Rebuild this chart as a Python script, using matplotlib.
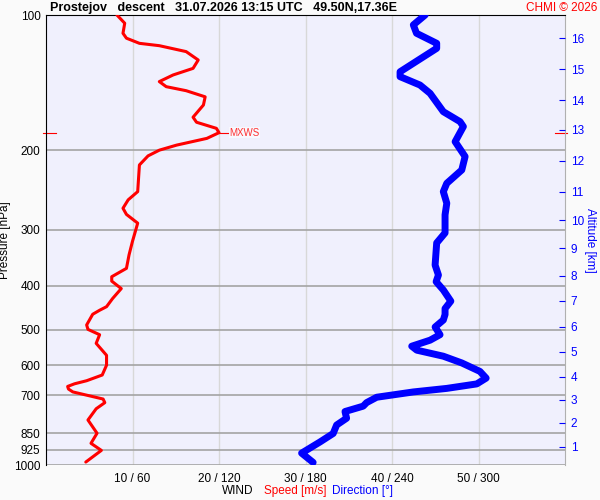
import numpy as np
import matplotlib
matplotlib.use("Agg")
import matplotlib.pyplot as plt
import matplotlib.transforms as mtransforms

plt.rcParams['font.family'] = ['Liberation Sans', 'DejaVu Sans']

# wind speed profile [m/s] vs pressure [hPa]
speed_p = [100, 104.3, 109.8, 112.6, 115.6, 117, 120.6, 125.9, 131.4, 135.9, 140.6, 144.3,
           147.3, 152, 158.5, 168.7, 173.1, 178.6, 182.6, 188, 194.6, 199.7, 205.6, 215.4,
           230.6, 246.9, 257.5, 268.8, 277.4, 290.1, 304, 318.3, 341.3, 365.6, 381.6, 390.3,
           405.5, 426.6, 444.8, 453, 462.4, 488.4, 499.6, 513.4, 536.6, 570.5, 600, 631,
           649.7, 660, 669, 678, 688, 713.5, 726.8, 749.9, 794.3, 850, 895, 928, 985]
speed = [8.2, 9.1, 8.9, 9.3, 10.8, 13.1, 16.2, 17.6, 17.0, 14.7, 13.1, 13.9,
         16.2, 18.4, 18.2, 17.0, 17.4, 19.7, 20.0, 18.6, 15.1, 13.1, 11.8, 10.8,
         10.7, 10.6, 9.5, 8.9, 9.3, 10.6, 10.3, 10.0, 9.6, 9.3, 7.6, 7.6,
         8.7, 7.7, 7.0, 6.2, 5.4, 4.7, 4.85, 6.2, 5.8, 7.0, 7.0, 6.5,
         4.7, 3.3, 2.5, 2.6, 3.1, 6.6, 6.8, 5.8, 4.85, 5.9, 5.2, 6.4, 4.6]

# wind direction profile [deg] vs pressure [hPa]
dir_p = [100, 105.2, 109.8, 115.6, 118.6, 133.7, 137.1, 143.1, 149.3, 164, 172.6, 177,
         191.2, 206.3, 221, 236.6, 246.9, 262, 278, 305, 321, 359.5, 378.3, 391.4,
         408.4, 432.4, 449.1, 463, 476.3, 493.6, 513.4, 528, 544.5, 555.7, 573.1, 593.2,
         619.5, 641.1, 660.4, 675.7, 688.1, 707, 726.7, 740, 760.6, 787.2, 815, 851,
         889, 941, 987]
direction = [263, 254.8, 257, 271, 271, 245.6, 245.6, 259.4, 266.4, 275.6, 287.2, 289.5,
             283.8, 290.7, 288.4, 278, 275.6, 278, 276.8, 276.8, 271, 269.9, 272.2, 270.6,
             275.6, 280.8, 276.8, 276.8, 275.6, 269.9, 273.3, 266.4, 253.7, 257.2, 275.6, 288.4,
             301, 305.3, 298.8, 278, 254.8, 229.4, 222.4, 220, 207.4, 208.5, 201.6, 199.2,
             190, 177.3, 185.3]

pressure_ticks = [100, 200, 300, 400, 500, 600, 700, 850, 925, 1000]
wind_ticks = [10, 20, 30, 40, 50]
wind_labels = ['10 / 60', '20 / 120', '30 / 180', '40 / 240', '50 / 300']

# altitude scale on the right side (km at pressure)
altitude_km = list(range(1, 17))
altitude_p = [911, 806.5, 717, 636.6, 560, 492.7, 431, 380, 329.5, 285.5,
              247, 210.8, 180, 154.5, 132, 112.7]

fig = plt.figure(figsize=(6, 5), dpi=100, facecolor='#fafafa')
ax = fig.add_axes([46 / 600, 35 / 500, 519 / 600, 450 / 500])
ax.set_facecolor('#f0f0fd')

ax.set_yscale('log')
ax.set_ylim(1000, 100)
ax.set_xlim(0, 60)
ax.minorticks_off()
ax.set_yticks(pressure_ticks)
ax.set_yticklabels([str(p) for p in pressure_ticks], fontsize=8.5)
ax.set_xticks(wind_ticks)
ax.set_xticklabels(wind_labels, fontsize=8.5)
ax.tick_params(axis='both', length=0, pad=4)
ax.tick_params(axis='x', pad=6)

for x in wind_ticks:
    ax.axvline(x, color='#d8d8d8', lw=1, zorder=1)
for p in pressure_ticks[1:]:
    ax.axhline(p, color='#a4a4a4', lw=1.2, zorder=1)

ax.spines['left'].set_color('black')
ax.spines['top'].set_color('black')
ax.spines['right'].set_color('#b0b0b0')
ax.spines['bottom'].set_visible(False)

ax.plot(speed, speed_p, color='red', lw=2.2, zorder=3,
        solid_capstyle='round', solid_joinstyle='round')
ax.plot(np.array(direction) / 6.0, dir_p, color='blue', lw=5, zorder=3,
        solid_capstyle='round', solid_joinstyle='round')

# max wind marker
i_max = int(np.argmax(speed))
s_max, p_max = speed[i_max], speed_p[i_max]
ax.plot([s_max, s_max + 1.0], [p_max, p_max], color='red', lw=0.8, zorder=3)
ax.text(s_max + 1.2, p_max, 'MXWS', color='#ff3030', fontsize=7, va='center',
        zorder=4, bbox=dict(facecolor='white', edgecolor='none', alpha=0.6, pad=0.5))
blend = mtransforms.blended_transform_factory(ax.transAxes, ax.transData)
ax.plot([-0.006, 0.019], [p_max, p_max], color='red', lw=0.8, transform=blend, clip_on=False)
ax.plot([0.98, 1.004], [p_max, p_max], color='red', lw=0.8, transform=blend, clip_on=False)

ax.set_ylabel('Pressure [hPa]', fontsize=8.5, labelpad=2)

ax2 = ax.twinx()
ax2.set_yscale('log')
ax2.set_ylim(1000, 100)
ax2.minorticks_off()
ax2.set_yticks(altitude_p)
ax2.set_yticklabels([str(a) for a in altitude_km], fontsize=8.5, color='blue')
ax2.tick_params(axis='y', direction='in', length=4, color='blue', pad=4)
for s in ax2.spines.values():
    s.set_visible(False)
ax2.set_ylabel('Altitude [km]', fontsize=8.5, color='blue', rotation=-90, labelpad=9)

fig.text(50 / 600, 1 - 8 / 500, 'Prostejov   descent   31.07.2026 13:15 UTC   49.50N,17.36E',
         fontsize=9, fontweight='bold', va='center', ha='left')
fig.text(597 / 600, 1 - 8 / 500, 'CHMI © 2026', fontsize=8.5, color='red', va='center', ha='right')

fig.text(253 / 600, 1 - 491 / 500, 'WIND', fontsize=8.5, color='black', va='center', ha='right')
fig.text(264 / 600, 1 - 491 / 500, 'Speed [m/s]', fontsize=8.5, color='red', va='center', ha='left')
fig.text(332 / 600, 1 - 491 / 500, 'Direction [°]', fontsize=8.5, color='blue', va='center', ha='left')

fig.savefig('out.png', dpi=100, facecolor=fig.get_facecolor())
